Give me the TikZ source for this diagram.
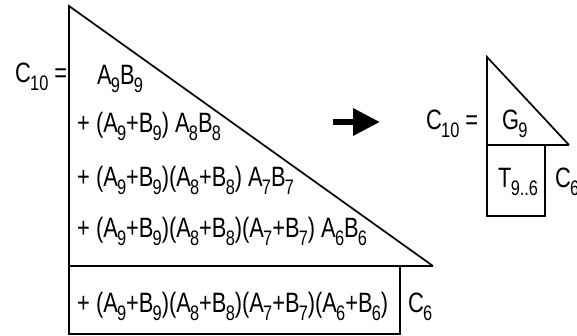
\documentclass[tikz,border=0pt]{standalone}
\usepackage{fontspec}
\setmainfont{Liberation Sans}[FakeStretch=0.78]
\usepackage{tikz}
\usetikzlibrary{arrows.meta}
\newcommand{\lo}[1]{\kern-0.8pt\raisebox{-8pt}{\fontsize{21}{21}\selectfont #1}}

\begin{document}
\begin{tikzpicture}[x=1pt, y=-1pt,
    term/.style={anchor=base west, inner sep=0pt, font=\fontsize{28}{28}\selectfont},
    edge/.style={line width=1.7pt, line join=miter},
    bigarr/.style={-{Triangle[length=27pt, width=26pt]}, line width=6.5pt}
]
    \useasboundingbox (0,0) rectangle (577,336);
    % left: full sum
    \draw[edge] (433,266) -- (69,6) -- (69,334) -- (400,334) -- (400,266);
    \draw[edge] (69,266) -- (433,266);
    \node[term] (cten) at (15,83) {C\lo{10} =};
    \node[term] (row1) at (97,85) {A\lo{9}B\lo{9}};
    \node[term] (row2) at (77,133) {+ (A\lo{9}+B\lo{9}) A\lo{8}B\lo{8}};
    \node[term] (row3) at (77,187) {+ (A\lo{9}+B\lo{9})(A\lo{8}+B\lo{8}) A\lo{7}B\lo{7}};
    \node[term] (row4) at (77,238) {+ (A\lo{9}+B\lo{9})(A\lo{8}+B\lo{8})(A\lo{7}+B\lo{7}) A\lo{6}B\lo{6}};
    \node[term] (row5) at (77,312) {+ (A\lo{9}+B\lo{9})(A\lo{8}+B\lo{8})(A\lo{7}+B\lo{7})(A\lo{6}+B\lo{6})};
    \node[term] (csix) at (408,312) {C\lo{6}};

    % arrow
    \coordinate (from) at (333,122);
    \coordinate (to) at (380,122);
    \draw[bigarr] (from) -- (to);

    % right: grouped form
    \draw[edge] (569,145) -- (487,57) -- (487,216) -- (545,216) -- (545,145);
    \draw[edge] (487,145) -- (569,145);
    \node[term] (ctenr) at (426,130) {C\lo{10} =};
    \node[term] (gnine) at (502,130) {G\lo{9}};
    \node[term] (tnine) at (498,188) {T\lo{9..6}};
    \node[term] (csixr) at (555,188) {C\lo{6}};
\end{tikzpicture}
\end{document}
